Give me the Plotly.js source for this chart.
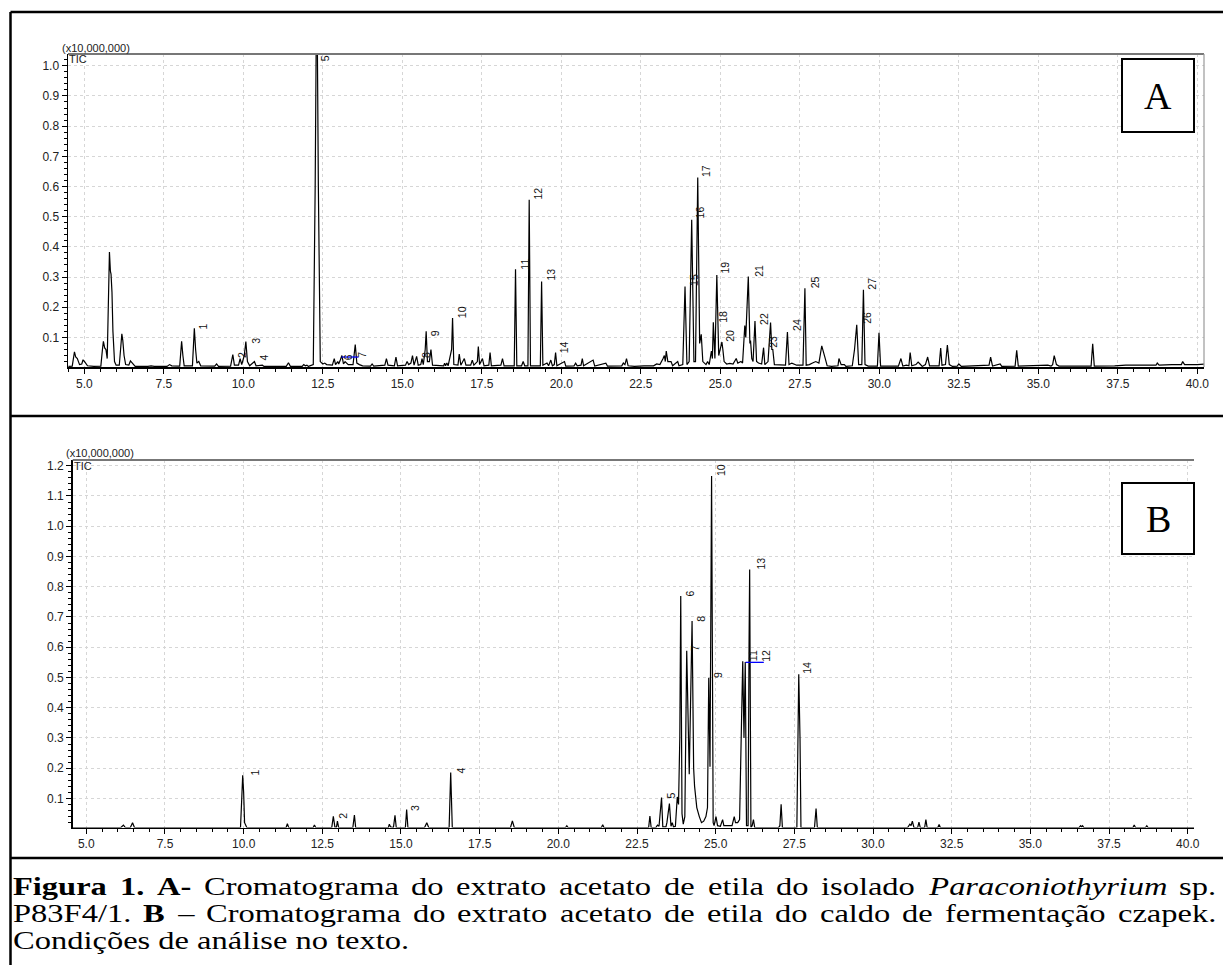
<!DOCTYPE html>
<html><head><meta charset="utf-8">
<script src="https://cdn.plot.ly/plotly-3.0.1.min.js"></script>
<style>html,body{margin:0;padding:0;background:#fff;}#chart{width:1223px;height:965px;}</style>
</head><body><div id="chart"></div>
<script>
// ---------- Panel A: chromatogram vertices (retention time, min ; intensity x10,000,000)
const timeA = [4.5,4.62,4.69,4.73,4.78,4.85,4.92,4.96,5.02,5.1,5.3,5.52,5.57,5.6,5.64,5.68,5.72,5.76,5.79,5.82,5.84,5.87,5.9,5.95,6.0,6.1,6.15,6.18,6.21,6.25,6.3,6.4,6.45,6.5,6.6,7.0,7.1,7.2,7.6,7.68,7.75,8.0,8.03,8.06,8.1,8.14,8.4,8.43,8.46,8.5,8.54,8.6,8.66,9.1,9.16,9.22,9.6,9.67,9.72,9.85,9.9,9.95,10.03,10.08,10.13,10.2,10.35,10.4,10.6,10.65,11.35,11.42,11.48,11.85,11.9,11.95,12.0,12.05,12.2,12.26,12.31,12.36,12.42,12.5,12.56,12.62,12.8,12.86,12.9,12.97,13.0,13.05,13.1,13.15,13.2,13.3,13.45,13.52,13.57,13.65,13.75,14.0,14.05,14.1,14.45,14.5,14.55,14.75,14.8,14.85,15.1,15.15,15.2,15.27,15.32,15.37,15.45,15.5,15.58,15.62,15.66,15.72,15.75,15.79,15.85,15.9,15.95,16.3,16.33,16.36,16.4,16.44,16.55,16.58,16.62,16.75,16.79,16.84,16.95,17.0,17.15,17.2,17.25,17.36,17.39,17.43,17.52,17.57,17.72,17.76,17.8,18.1,18.15,18.2,18.52,18.56,18.6,18.75,18.8,18.85,18.95,18.99,19.03,19.34,19.38,19.42,19.55,19.6,19.67,19.72,19.78,19.82,19.86,20.1,20.14,20.4,20.45,20.5,20.62,20.66,20.7,21.0,21.05,21.4,21.45,21.9,21.95,22.0,22.05,22.1,22.3,22.6,22.9,23.0,23.1,23.2,23.24,23.27,23.3,23.35,23.45,23.5,23.66,23.7,23.82,23.89,23.95,24.02,24.1,24.17,24.22,24.29,24.35,24.4,24.45,24.55,24.6,24.65,24.72,24.75,24.78,24.83,24.89,24.95,25.02,25.05,25.08,25.12,25.2,25.3,25.4,25.5,25.55,25.65,25.7,25.73,25.77,25.8,25.88,25.93,25.95,25.99,26.03,26.09,26.14,26.2,26.3,26.36,26.4,26.5,26.58,26.62,26.65,26.7,26.9,27.05,27.11,27.16,27.25,27.32,27.4,27.6,27.66,27.7,27.8,27.9,28.0,28.1,28.19,28.3,28.36,28.5,28.7,28.73,28.8,28.9,28.95,29.15,29.22,29.29,29.35,29.45,29.5,29.55,29.65,29.94,29.99,30.04,30.6,30.68,30.74,30.85,30.93,30.97,31.02,31.15,31.22,31.28,31.35,31.45,31.52,31.58,31.88,31.93,31.97,32.08,32.14,32.2,32.3,32.45,32.5,32.58,33.0,33.45,33.5,33.56,33.8,33.85,34.27,34.32,34.37,35.3,35.4,35.45,35.5,35.57,35.65,36.66,36.71,36.76,37.4,37.75,38.2,38.7,38.74,38.8,39.2,39.5,39.54,39.6,40.0,40.25];
const ticA  = [0.004,0.005,0.052,0.035,0.03,0.01,0.012,0.026,0.018,0.006,0.004,0.005,0.06,0.087,0.065,0.06,0.03,0.2,0.383,0.32,0.31,0.25,0.12,0.02,0.008,0.008,0.06,0.112,0.09,0.04,0.01,0.008,0.022,0.015,0.004,0.004,0.006,0.004,0.004,0.01,0.006,0.005,0.06,0.087,0.04,0.006,0.006,0.08,0.13,0.06,0.015,0.02,0.006,0.005,0.012,0.004,0.005,0.043,0.008,0.008,0.03,0.01,0.04,0.086,0.02,0.006,0.02,0.006,0.008,0.004,0.004,0.016,0.004,0.004,0.01,0.006,0.008,0.004,0.01,0.6,1.35,0.6,0.02,0.012,0.015,0.01,0.008,0.03,0.01,0.02,0.012,0.025,0.04,0.012,0.02,0.01,0.01,0.076,0.015,0.01,0.006,0.005,0.012,0.005,0.008,0.03,0.008,0.006,0.035,0.006,0.008,0.02,0.01,0.015,0.04,0.008,0.037,0.008,0.01,0.03,0.01,0.06,0.12,0.02,0.02,0.06,0.008,0.006,0.015,0.006,0.015,0.006,0.06,0.164,0.01,0.008,0.045,0.008,0.03,0.008,0.008,0.025,0.008,0.02,0.07,0.01,0.03,0.006,0.008,0.05,0.006,0.008,0.03,0.006,0.006,0.326,0.006,0.006,0.02,0.006,0.006,0.556,0.006,0.006,0.285,0.008,0.015,0.006,0.025,0.006,0.01,0.05,0.006,0.02,0.005,0.006,0.015,0.006,0.008,0.03,0.006,0.025,0.005,0.015,0.005,0.006,0.015,0.01,0.03,0.006,0.004,0.006,0.006,0.012,0.01,0.03,0.04,0.02,0.055,0.02,0.02,0.006,0.02,0.006,0.01,0.269,0.01,0.02,0.49,0.02,0.02,0.63,0.08,0.11,0.02,0.01,0.02,0.01,0.055,0.03,0.15,0.03,0.307,0.04,0.08,0.085,0.06,0.02,0.012,0.014,0.012,0.03,0.015,0.02,0.015,0.08,0.139,0.1,0.302,0.08,0.09,0.03,0.02,0.154,0.02,0.015,0.012,0.066,0.01,0.02,0.149,0.06,0.06,0.01,0.008,0.008,0.118,0.01,0.015,0.012,0.008,0.008,0.263,0.008,0.01,0.015,0.02,0.015,0.072,0.03,0.006,0.004,0.006,0.03,0.01,0.01,0.004,0.006,0.06,0.142,0.01,0.01,0.258,0.01,0.005,0.005,0.115,0.005,0.005,0.03,0.005,0.008,0.006,0.05,0.006,0.01,0.018,0.012,0.004,0.01,0.035,0.006,0.006,0.065,0.008,0.01,0.075,0.01,0.004,0.005,0.012,0.004,0.006,0.008,0.035,0.005,0.012,0.004,0.005,0.057,0.005,0.008,0.005,0.01,0.04,0.01,0.005,0.005,0.079,0.005,0.006,0.008,0.008,0.008,0.015,0.008,0.01,0.01,0.02,0.01,0.01,0.012];
const peakLabelsA = ["1","2","3","4","5","6","7","8","9","10","11","12","13","14","15","16","17","18","19","20","21","22","23","24","25","26","27"];
const labelTimeA  = [8.53,9.77,10.21,10.47,12.39,13.13,13.54,15.56,15.85,16.69,18.68,19.07,19.49,19.9,24.0,24.18,24.36,24.89,24.97,25.13,26.02,26.19,26.46,27.24,27.8,29.42,29.58];
const labelTicA   = [0.125,0.032,0.079,0.024,0.88,0.024,0.032,0.032,0.105,0.164,0.324,0.556,0.289,0.048,0.269,0.495,0.631,0.148,0.313,0.087,0.3,0.142,0.065,0.12,0.264,0.145,0.258];
const baselineTimeA = [13.09,13.62];
const baselineTicA  = [0.035,0.035];

// ---------- Panel B
const timeB = [4.57,6.1,6.18,6.24,6.4,6.47,6.53,7.7,7.76,7.82,9.9,9.94,9.97,10.0,10.03,10.1,11.35,11.39,11.43,12.21,12.25,12.29,12.8,12.85,12.9,12.95,12.98,13.02,13.47,13.52,13.56,14.6,14.63,14.67,14.72,14.76,14.81,14.85,15.14,15.18,15.22,15.75,15.82,15.88,16.53,16.58,16.63,17.1,17.13,17.16,18.48,18.54,18.6,20.23,20.27,20.31,21.37,21.41,21.45,22.87,22.91,22.95,23.1,23.15,23.2,23.28,23.32,23.42,23.45,23.53,23.58,23.62,23.66,23.72,23.78,23.82,23.86,23.89,23.93,23.97,24.02,24.08,24.13,24.16,24.25,24.3,24.33,24.4,24.48,24.55,24.62,24.69,24.74,24.78,24.82,24.87,24.92,24.95,25.01,25.06,25.15,25.22,25.26,25.35,25.45,25.52,25.59,25.63,25.7,25.76,25.83,25.86,25.9,25.94,25.98,26.03,26.06,26.08,26.12,26.16,26.2,26.24,27.0,27.04,27.08,27.12,27.58,27.62,27.64,27.68,27.71,28.14,28.19,28.23,31.1,31.17,31.21,31.25,31.3,31.42,31.46,31.5,31.64,31.68,31.72,32.06,32.1,32.14,36.55,36.6,36.63,36.66,36.7,38.26,38.3,38.34,38.66,38.7,38.74,40.2];
const ticB  = [0.004,0.004,0.012,0.004,0.004,0.02,0.004,0.004,0.006,0.004,0.004,0.1,0.177,0.12,0.02,0.004,0.004,0.017,0.004,0.004,0.012,0.004,0.004,0.041,0.005,0.005,0.025,0.004,0.004,0.045,0.004,0.004,0.015,0.006,0.006,0.004,0.044,0.004,0.004,0.063,0.004,0.004,0.02,0.004,0.004,0.186,0.004,0.004,0.006,0.004,0.004,0.026,0.004,0.004,0.01,0.004,0.004,0.013,0.004,0.004,0.042,0.004,0.004,0.012,0.008,0.103,0.006,0.006,0.02,0.083,0.008,0.02,0.006,0.008,0.105,0.08,0.3,0.769,0.05,0.015,0.04,0.588,0.3,0.18,0.687,0.2,0.14,0.07,0.04,0.02,0.025,0.04,0.07,0.499,0.205,1.166,0.02,0.01,0.04,0.01,0.008,0.03,0.01,0.01,0.008,0.01,0.04,0.02,0.02,0.03,0.4,0.554,0.3,0.551,0.01,0.01,0.6,0.857,0.004,0.01,0.03,0.004,0.004,0.01,0.081,0.004,0.004,0.4,0.511,0.3,0.004,0.004,0.067,0.004,0.004,0.015,0.01,0.025,0.004,0.004,0.022,0.004,0.004,0.03,0.004,0.004,0.014,0.004,0.004,0.01,0.006,0.01,0.004,0.004,0.012,0.004,0.004,0.01,0.004,0.004];
const peakLabelsB = ["1","2","3","4","5","6","7","8","9","10","11","12","13","14"];
const labelTimeB  = [10.18,12.98,15.26,16.72,23.39,23.99,24.16,24.34,24.9,24.98,25.98,26.41,26.25,27.73];
const labelTicB   = [0.177,0.034,0.059,0.183,0.1,0.767,0.588,0.684,0.497,1.166,0.554,0.552,0.857,0.511];
const baselineTimeB = [25.95,26.53];
const baselineTicB  = [0.55,0.55];

// ---------- Tick labels
const xTickVals = [5,7.5,10,12.5,15,17.5,20,22.5,25,27.5,30,32.5,35,37.5,40];
const xTickText = ["5.0","7.5","10.0","12.5","15.0","17.5","20.0","22.5","25.0","27.5","30.0","32.5","35.0","37.5","40.0"];
const yTickValsA = [0.1,0.2,0.3,0.4,0.5,0.6,0.7,0.8,0.9,1.0];
const yTickValsB = [0.1,0.2,0.3,0.4,0.5,0.6,0.7,0.8,0.9,1.0,1.1,1.2];

// ---------- Caption
const captionLine1 = [["Figura","b"],["1.","b"],["A-","b"],["Cromatograma",""],["do",""],["extrato",""],["acetato",""],["de",""],["etila",""],["do",""],["isolado",""],["Paraconiothyrium","i"],["sp.",""]];
const captionLine2 = [["P83F4/1.",""],["B","b"],["–",""],["Cromatograma",""],["do",""],["extrato",""],["acetato",""],["de",""],["etila",""],["do",""],["caldo",""],["de",""],["fermentação",""],["czapek.",""]];
const captionLine3 = "Condições de análise no texto.";

// ================= layout helpers =================
const W = 1223, H = 965;
const X = p => p / W;
const Y = p => 1 - p / H;
const SANS = 'Liberation Sans, Arial, Helvetica, sans-serif';
const SERIF = 'Liberation Serif, Times New Roman, Times, serif';

const traces = [
  {x: timeA, y: ticA, xaxis:'x', yaxis:'y', mode:'lines', line:{color:'#000', width:1.2}, hoverinfo:'skip'},
  {x: baselineTimeA, y: baselineTicA, xaxis:'x', yaxis:'y', mode:'lines', line:{color:'#0000ff', width:1.3}, hoverinfo:'skip'},
  {x: timeB, y: ticB, xaxis:'x2', yaxis:'y2', mode:'lines', line:{color:'#000', width:1.2}, hoverinfo:'skip'},
  {x: baselineTimeB, y: baselineTicB, xaxis:'x2', yaxis:'y2', mode:'lines', line:{color:'#0000ff', width:1.3}, hoverinfo:'skip'}
];

function xAxis(dom, rng, anchor){
  return {domain:dom, range:rng, anchor:anchor, tickmode:'array', tickvals:xTickVals, ticktext:xTickText,
    ticks:'outside', ticklen:5, tickwidth:1, tickcolor:'#000', showline:true, linecolor:'#000', linewidth:1.5,
    showgrid:true, gridcolor:'#d6d6d6', gridwidth:1, griddash:'dot', zeroline:false,
    tickfont:{family:SANS, size:12, color:'#222'},
    minor:{tick0:5, dtick:0.5, ticks:'outside', ticklen:3, tickcolor:'#000', tickwidth:1, showgrid:false},
    fixedrange:true};
}
function yAxis(dom, rng, anchor, vals){
  return {domain:dom, range:rng, anchor:anchor, tickmode:'array', tickvals:vals, ticktext:vals.map(v=>v.toFixed(1)),
    ticks:'outside', ticklen:5, tickwidth:1, tickcolor:'#000', showline:true, linecolor:'#000', linewidth:1.5,
    showgrid:true, gridcolor:'#d6d6d6', gridwidth:1, griddash:'dot', zeroline:false,
    tickfont:{family:SANS, size:12, color:'#222'},
    minor:{tick0:0, dtick:0.02, ticks:'outside', ticklen:3, tickcolor:'#000', tickwidth:1, showgrid:false},
    fixedrange:true};
}

const annotations = [];
function ann(o){ annotations.push(Object.assign({showarrow:false, borderpad:0, borderwidth:0}, o)); return annotations.length - 1; }

// axis unit and TIC labels
ann({xref:'paper', yref:'paper', x:X(62), y:Y(48), xanchor:'left', yanchor:'middle', text:'(x10,000,000)', font:{family:SANS, size:11, color:'#222'}});
ann({xref:'paper', yref:'paper', x:X(69), y:Y(59), xanchor:'left', yanchor:'middle', text:'TIC', font:{family:SANS, size:11, color:'#222'}});
ann({xref:'paper', yref:'paper', x:X(66), y:Y(453), xanchor:'left', yanchor:'middle', text:'(x10,000,000)', font:{family:SANS, size:11, color:'#222'}});
ann({xref:'paper', yref:'paper', x:X(73.5), y:Y(466), xanchor:'left', yanchor:'middle', text:'TIC', font:{family:SANS, size:11, color:'#222'}});

// panel letters
ann({xref:'paper', yref:'paper', x:X(1158), y:Y(95.5), xanchor:'center', yanchor:'middle', text:'A', font:{family:SERIF, size:38, color:'#000'}});
ann({xref:'paper', yref:'paper', x:X(1158), y:Y(518.5), xanchor:'center', yanchor:'middle', text:'B', font:{family:SERIF, size:38, color:'#000'}});

// peak labels
peakLabelsA.forEach((t,i)=>{
  const top = t === "5";
  ann({xref:'x', yref:'y', x:labelTimeA[i], y: top ? 1.036 : labelTicA[i], xanchor:'left', yanchor: top ? 'top' : 'bottom',
       text:t, textangle:-90, font:{family:SANS, size:10.5, color:'#111'}});
});
peakLabelsB.forEach((t,i)=>{
  ann({xref:'x2', yref:'y2', x:labelTimeB[i], y:labelTicB[i], xanchor:'left', yanchor:'bottom',
       text:t, textangle:-90, font:{family:SANS, size:10.5, color:'#111'}});
});

// caption: Times-like text, horizontally widened like the reference scan, justified
const CAP = 25, STRETCH = 1.3;
const capIdx = [];
const svgNS = 'http://www.w3.org/2000/svg';
const msvg = document.createElementNS(svgNS, 'svg');
msvg.setAttribute('width', '10'); msvg.setAttribute('height', '10');
msvg.style.position = 'absolute'; msvg.style.left = '-3000px'; msvg.style.top = '0';
document.body.appendChild(msvg);
function measure(txt, s){
  const t = document.createElementNS(svgNS, 'text');
  t.setAttribute('style', 'font-family:' + SERIF + ';font-size:' + CAP + 'px;font-weight:' + (s==='b'?'bold':'normal') + ';font-style:' + (s==='i'?'italic':'normal'));
  t.textContent = txt; msvg.appendChild(t);
  const w = t.getComputedTextLength(); msvg.removeChild(t); return w * STRETCH;
}
function wrap(w, s){ return s==='b' ? '<b>'+w+'</b>' : s==='i' ? '<i>'+w+'</i>' : w; }
const L = 13, R = 1216;
function justified(words, yc){
  const widths = words.map(([w,s]) => measure(w, s));
  const sum = widths.reduce((a,b)=>a+b, 0);
  const gap = Math.max(4, (R - L - sum) / (words.length - 1));
  let x = L;
  words.forEach(([w,s],i)=>{
    capIdx.push(ann({xref:'paper', yref:'paper', x:X(x), y:Y(yc), xanchor:'left', yanchor:'middle', text:wrap(w,s),
         font:{family:SERIF, size:CAP, color:'#000'}}));
    x += widths[i] + gap;
  });
}
justified(captionLine1, 886);
justified(captionLine2, 913);
capIdx.push(ann({xref:'paper', yref:'paper', x:X(L), y:Y(940), xanchor:'left', yanchor:'middle', text:captionLine3,
     font:{family:SERIF, size:CAP, color:'#000'}}));
document.body.removeChild(msvg);

// frame shapes
const shapes = [];
function line(x0,y0,x1,y1,color,width){ shapes.push({type:'line', xref:'paper', yref:'paper', x0:X(x0), y0:Y(y0), x1:X(x1), y1:Y(y1), line:{color:color, width:width}}); }
line(10.5, 12, 1223, 12, '#000', 2.5);
line(10.5, 12, 10.5, 965, '#000', 2.5);
line(10.5, 416, 1223, 416, '#000', 2.5);
line(10.5, 858, 1223, 858, '#000', 2.5);
line(68, 54, 1204, 54, '#777', 2);
line(1204, 54, 1204, 367, '#999', 1.2);
line(72.7, 460, 1194, 460, '#777', 2);
shapes.push({type:'rect', xref:'paper', yref:'paper', x0:X(1122), y0:Y(59), x1:X(1194), y1:Y(132), line:{color:'#000', width:2}, fillcolor:'#fff'});
shapes.push({type:'rect', xref:'paper', yref:'paper', x0:X(1122), y0:Y(483), x1:X(1194), y1:Y(554), line:{color:'#000', width:2}, fillcolor:'#fff'});

const layout = {
  width:W, height:H, margin:{l:0, r:0, t:0, b:0}, paper_bgcolor:'#fff', plot_bgcolor:'#fff', showlegend:false,
  xaxis: xAxis([X(68), X(1204)], [4.487, 40.21], 'y'),
  yaxis: yAxis([Y(367), Y(54)], [0.002, 1.039], 'x', yTickValsA),
  xaxis2: xAxis([X(72.7), X(1194)], [4.568, 40.2], 'y2'),
  yaxis2: yAxis([Y(827.5), Y(460)], [0.004, 1.219], 'x2', yTickValsB),
  annotations: annotations, shapes: shapes
};
Plotly.newPlot('chart', traces, layout, {staticPlot:true, displayModeBar:false}).then(gd => {
  capIdx.forEach(i => {
    const t = gd.querySelector('.infolayer g.annotation[data-index="' + i + '"] text');
    if (t) {
      t.style.transformBox = 'fill-box';
      t.style.transformOrigin = '0% 50%';
      t.style.transform = 'scaleX(' + STRETCH + ')';
    }
  });
});
</script>
</body></html>
